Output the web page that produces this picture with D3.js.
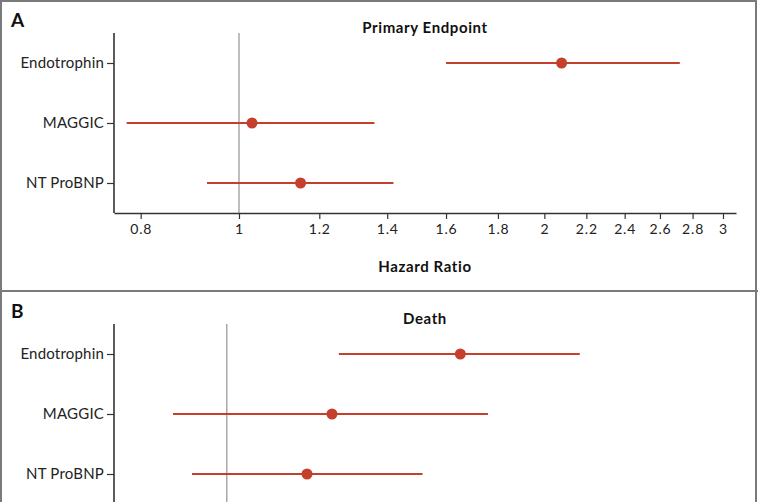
<!DOCTYPE html>
<html><head><meta charset="utf-8">
<script src="https://cdn.jsdelivr.net/npm/d3@7"></script>
<style>body{margin:0;background:#fff}svg{display:block;font-family:Lato,"Open Sans",sans-serif}</style>
</head><body><svg id="c" width="758" height="502"></svg>
<script>
const categories = ["Endotrophin", "MAGGIC", "NT ProBNP"];
const tickValues = [0.8, 1, 1.2, 1.4, 1.6, 1.8, 2, 2.2, 2.4, 2.6, 2.8, 3];
const tickLabels = ["0.8", "1", "1.2", "1.4", "1.6", "1.8", "2", "2.2", "2.4", "2.6", "2.8", "3"];
// Panel A: Primary Endpoint
const primaryHR = [2.08, 1.03, 1.15];
const primaryLower = [1.60, 0.775, 0.93];
const primaryUpper = [2.72, 1.36, 1.42];
// Panel B: Death
const deathHR = [1.70, 1.27, 1.20];
const deathLower = [1.29, 0.885, 0.924];
const deathUpper = [2.23, 1.81, 1.56];

const svg = d3.select("#c");
const red = "#c5402c";

function panel(top, letter, title, hr, lo, hi, domain, showXLabels) {
  const g = svg.append("g").attr("transform", `translate(0,${top})`);
  const x = d3.scaleLog().domain(domain).range([114, 736]);
  const y = d3.scalePoint().domain(categories).range([63, 183]);
  const plotTop = 33, plotBottom = 213;

  g.append("text").attr("x", 11).attr("y", 27).attr("font-size", 19).attr("font-weight", 700).attr("fill", "#111").text(letter);
  g.append("text").attr("x", 425).attr("y", 33).attr("text-anchor", "middle").attr("font-size", 15).attr("letter-spacing", 0.6).attr("font-weight", 700).attr("fill", "#111").text(title);

  // reference line at HR = 1
  g.append("line").attr("x1", x(1)).attr("x2", x(1)).attr("y1", plotTop).attr("y2", plotBottom)
    .attr("stroke", "#a8a8a8").attr("stroke-width", 1.5);

  // x axis
  const xa = g.append("g").attr("transform", `translate(0,${plotBottom})`)
    .call(d3.axisBottom(x).tickValues(tickValues).tickFormat((d, i) => tickLabels[i]).tickSize(6).tickSizeOuter(0));
  xa.select(".domain").attr("stroke", "#333").attr("stroke-width", 1.6);
  xa.selectAll(".tick line").attr("stroke", "#333").attr("stroke-width", 1.2);
  if (showXLabels) {
    xa.selectAll(".tick text").attr("font-size", 14).attr("letter-spacing", 0.8).attr("fill", "#222").attr("dy", "0.85em").attr("font-family", "Lato");
    g.append("text").attr("x", 425).attr("y", 272).attr("text-anchor", "middle").attr("font-size", 15).attr("letter-spacing", 0.6).attr("font-weight", 700).attr("fill", "#111").text("Hazard Ratio");
  } else {
    xa.selectAll(".tick text").remove();
  }

  // y axis
  const ya = g.append("g").attr("transform", "translate(114,0)")
    .call(d3.axisLeft(y).tickSize(7).tickPadding(3).tickSizeOuter(0));
  ya.select(".domain").attr("d", `M0,${plotTop}V${plotBottom}`).attr("stroke", "#333").attr("stroke-width", 1.6);
  ya.selectAll(".tick line").attr("stroke", "#333").attr("stroke-width", 1.2);
  ya.selectAll(".tick text").attr("font-size", 15).attr("letter-spacing", 0.2).attr("fill", "#222").attr("font-family", "Lato");

  const rows = categories.map((c, i) => ({c, hr: hr[i], lo: lo[i], hi: hi[i]}));
  g.selectAll("line.ci").data(rows).join("line").attr("class", "ci")
    .attr("x1", d => x(d.lo)).attr("x2", d => x(d.hi)).attr("y1", d => y(d.c)).attr("y2", d => y(d.c))
    .attr("stroke", red).attr("stroke-width", 2);
  g.selectAll("circle.pt").data(rows).join("circle").attr("class", "pt")
    .attr("cx", d => x(d.hr)).attr("cy", d => y(d.c)).attr("r", 5.5).attr("fill", red);
}

panel(0, "A", "Primary Endpoint", primaryHR, primaryLower, primaryUpper, [0.753, 3.09], true);
// Panel B's x axis falls below the visible area, as in the reference
panel(291, "B", "Death", deathHR, deathLower, deathUpper, [0.774, 3.18], false);

// frame
const frame = "#7a7a7a";
svg.append("rect").attr("x", 1).attr("y", 1).attr("width", 755).attr("height", 520).attr("fill", "none").attr("stroke", frame).attr("stroke-width", 2);
svg.append("line").attr("x1", 0).attr("x2", 758).attr("y1", 291).attr("y2", 291).attr("stroke", frame).attr("stroke-width", 2);
</script></body></html>
